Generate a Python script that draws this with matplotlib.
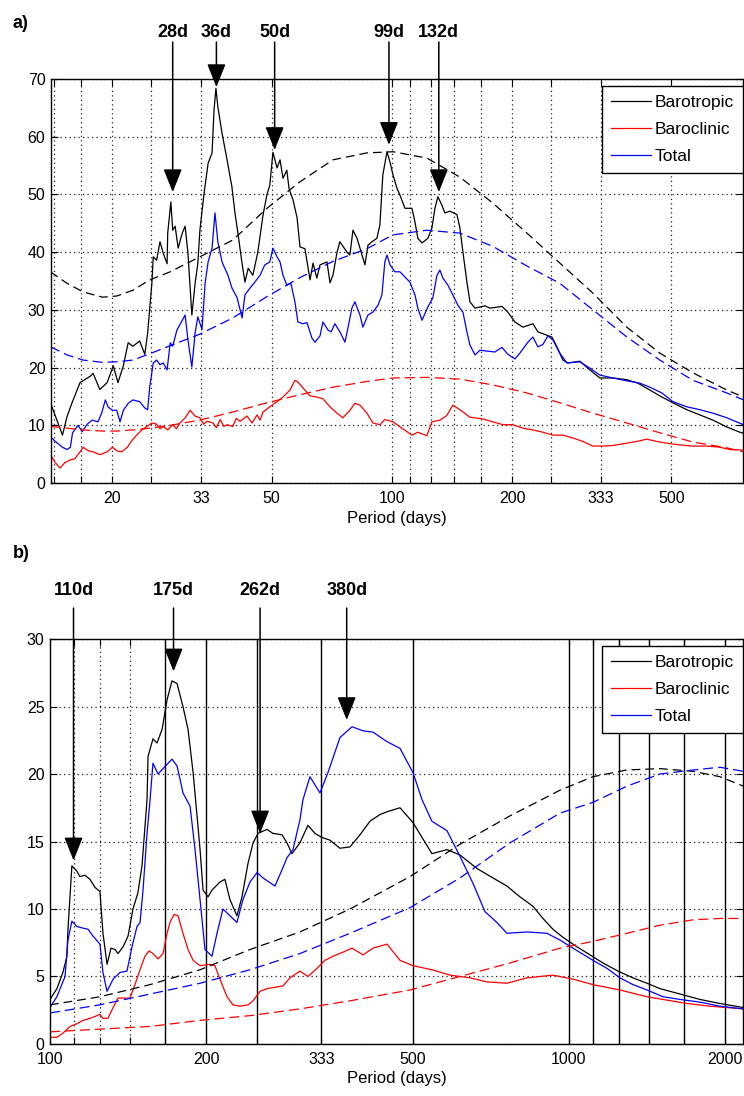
import matplotlib.pyplot as plt
from matplotlib.ticker import FixedLocator, FixedFormatter, NullLocator

plt.rcParams['font.family'] = ['Liberation Sans', 'DejaVu Sans']

# ---------------- panel a) data : (period in days, value) ----------------
a_baro = [(14.0, 13.9), (15.0, 8.3), (15.4, 11.5), (15.85, 13.9), (16.6, 17.4), (17.6, 18.5), (17.9, 19.0),
          (18.6, 16.2), (19.4, 17.4), (20.1, 20.3), (20.65, 17.4), (21.3, 20.3), (21.9, 24.3), (22.5, 23.7),
          (23.4, 24.6), (24.1, 22.3), (24.5, 26.0), (25.1, 34.6), (25.3, 39.2), (25.8, 38.6), (26.3, 41.8),
          (26.8, 39.8), (27.4, 38.0), (27.5, 43.3), (28.0, 48.7), (28.3, 43.8), (28.7, 44.5), (29.2, 40.7),
          (29.9, 43.3), (30.4, 44.5), (30.9, 39.8), (31.6, 29.1), (32.2, 34.6), (32.7, 38.0), (33.1, 43.8),
          (33.9, 50.2), (34.7, 55.4), (35.5, 57.2), (35.9, 64.6), (36.3, 68.4), (36.7, 65.2), (37.6, 60.6),
          (38.7, 56.0), (39.8, 51.3), (40.5, 46.8), (41.2, 43.3), (42.2, 38.0), (42.9, 34.8), (43.7, 37.2),
          (44.9, 36.0), (46.2, 40.0), (47.6, 46.4), (48.7, 50.0), (49.5, 51.6), (50.4, 57.3), (51.6, 54.6),
          (52.5, 56.0), (53.4, 52.8), (54.6, 54.2), (55.3, 51.0), (56.6, 49.0), (57.9, 46.0), (58.9, 40.9),
          (60.6, 40.6), (62.4, 35.2), (63.5, 38.1), (64.9, 35.5), (66.1, 37.8), (68.8, 38.3), (70.0, 34.7),
          (71.2, 36.0), (72.9, 40.0), (74.1, 41.8), (77.2, 40.0), (78.5, 39.5), (79.9, 43.8), (81.8, 42.4),
          (83.2, 40.7), (85.6, 37.8), (87.1, 41.2), (89.1, 41.8), (91.7, 42.4), (93.3, 44.7), (94.9, 53.4),
          (97.2, 57.4), (98.9, 55.6), (100.6, 53.4), (102.9, 51.1), (104.7, 49.9), (107.8, 47.6), (112.2, 47.6),
          (114.2, 45.2), (116.1, 42.4), (118.9, 41.6), (123.0, 42.4), (125.9, 44.2), (128.1, 47.6), (130.3, 49.6),
          (133.4, 48.1), (135.6, 46.8), (139.6, 47.1), (145.4, 46.5), (147.9, 44.2), (150.5, 40.0), (154.0, 34.8),
          (156.7, 31.4), (161.3, 30.3), (170.8, 30.7), (175.8, 30.3), (188.4, 30.6), (195.0, 29.6), (203.0, 27.9),
          (212.6, 27.0), (225.2, 27.6), (231.7, 26.2), (244.1, 25.6), (251.2, 25.3), (258.5, 23.6), (267.6, 21.3),
          (275.4, 20.8), (295.1, 21.1), (312.6, 19.6), (331.1, 18.2), (356.9, 18.2), (386.7, 17.9), (412.1, 17.3),
          (441.6, 16.1), (473.2, 14.9), (504.2, 13.9), (546.3, 12.7), (588.8, 11.8), (634.7, 10.9), (687.9, 9.7),
          (741.3, 8.8), (757.0, 8.6)]

a_total = [(14.0, 8.0), (14.4, 7.2), (15.0, 6.2), (15.4, 5.8), (15.7, 6.2), (15.9, 8.7), (16.4, 10.0), (16.8, 8.9),
           (17.3, 10.2), (17.8, 10.9), (18.4, 10.6), (18.8, 12.1), (19.2, 14.4), (19.5, 13.2), (20.0, 12.6),
           (20.5, 12.6), (20.9, 10.6), (21.3, 12.6), (21.9, 13.8), (22.5, 14.4), (23.4, 14.1), (24.1, 13.0),
           (24.5, 12.7), (24.8, 16.7), (25.3, 20.8), (25.8, 21.3), (26.3, 20.5), (26.8, 20.8), (27.4, 19.6),
           (27.9, 24.3), (28.3, 23.7), (29.0, 26.5), (29.9, 28.2), (30.4, 29.1), (30.9, 24.8), (31.6, 20.1),
           (32.2, 26.0), (32.7, 28.8), (33.5, 26.6), (34.1, 34.6), (34.7, 38.3), (35.5, 40.7), (36.1, 46.8),
           (36.7, 41.8), (37.6, 38.3), (38.2, 37.2), (38.9, 36.0), (39.8, 33.8), (41.0, 32.1), (42.2, 28.6),
           (42.9, 32.6), (44.2, 33.8), (45.4, 34.8), (46.8, 36.0), (48.1, 37.8), (49.5, 38.3), (50.4, 40.7),
           (51.6, 39.2), (52.5, 38.3), (53.4, 36.0), (54.6, 34.3), (55.9, 34.6), (57.2, 31.4), (58.2, 27.9),
           (59.9, 27.6), (61.3, 27.8), (63.1, 25.1), (64.2, 24.4), (66.1, 25.5), (67.2, 27.9), (69.2, 26.5),
           (70.5, 26.2), (72.0, 27.6), (74.1, 26.2), (76.3, 24.4), (77.6, 26.8), (79.4, 30.3), (80.8, 31.4),
           (83.2, 29.1), (84.6, 27.0), (87.1, 29.1), (89.6, 29.6), (92.3, 30.8), (94.4, 32.6), (96.0, 38.3),
           (97.2, 39.5), (98.9, 37.8), (101.7, 36.6), (104.7, 36.6), (110.9, 34.8), (114.2, 32.6), (116.1, 30.3),
           (118.9, 28.2), (123.0, 30.5), (126.6, 32.1), (129.6, 36.0), (131.8, 36.9), (134.1, 35.5), (138.0, 34.3),
           (142.0, 32.6), (146.2, 30.8), (150.5, 29.6), (154.0, 26.2), (156.7, 23.9), (161.3, 22.2), (166.0, 23.0),
           (180.9, 22.7), (188.4, 23.5), (195.0, 22.3), (203.0, 21.5), (208.9, 22.5), (218.8, 24.4), (225.2, 25.3),
           (231.7, 23.6), (238.5, 24.0), (245.5, 25.5), (252.6, 24.8), (263.0, 22.5), (273.8, 20.8), (295.1, 21.0),
           (312.6, 19.9), (331.1, 18.7), (356.9, 18.2), (386.7, 17.7), (416.9, 17.3), (441.6, 16.6), (473.2, 15.6),
           (504.2, 14.1), (546.3, 13.2), (588.8, 12.7), (634.7, 12.1), (687.9, 11.3), (757.0, 10.1)]

a_clinic = [(14.0, 4.9), (14.4, 3.5), (14.8, 2.6), (15.2, 3.5), (15.7, 4.0), (16.1, 4.2), (16.6, 5.4), (16.9, 6.2),
            (17.4, 5.6), (17.9, 5.4), (18.6, 4.9), (19.4, 5.4), (20.0, 6.2), (20.5, 5.6), (21.1, 5.4), (21.8, 6.2),
            (22.4, 7.4), (23.0, 8.3), (23.7, 9.2), (24.4, 9.8), (25.1, 10.4), (25.8, 10.2), (26.3, 9.4), (26.8, 9.8),
            (27.5, 9.2), (28.3, 10.1), (28.9, 9.4), (29.5, 10.4), (30.4, 11.3), (31.3, 12.6), (32.2, 11.6),
            (33.1, 11.3), (33.8, 10.2), (34.5, 10.7), (35.7, 10.4), (36.4, 9.6), (37.2, 11.0), (38.0, 9.8),
            (38.7, 10.1), (40.0, 9.8), (40.8, 11.2), (41.7, 10.7), (43.4, 11.6), (44.7, 10.4), (46.0, 11.8),
            (46.8, 10.9), (47.6, 12.3), (49.5, 13.2), (51.6, 14.1), (53.4, 14.9), (55.6, 16.1), (57.2, 17.8),
            (58.2, 17.5), (59.9, 16.5), (62.4, 15.1), (64.9, 14.9), (67.2, 14.6), (70.0, 13.2), (72.9, 12.1),
            (75.4, 11.3), (78.5, 12.6), (80.8, 13.8), (83.2, 13.5), (86.6, 12.1), (89.6, 10.4), (93.3, 10.1),
            (96.0, 11.0), (100.6, 10.6), (105.9, 9.5), (112.2, 8.3), (116.1, 8.8), (122.3, 8.2), (125.9, 10.6),
            (131.8, 10.9), (137.2, 11.7), (142.0, 13.5), (147.9, 12.7), (156.7, 11.4), (168.9, 11.1), (178.8, 10.6),
            (189.5, 10.1), (200.6, 10.1), (212.6, 9.5), (225.2, 9.2), (238.5, 8.8), (252.6, 8.3), (267.6, 8.3),
            (283.5, 7.8), (300.3, 7.2), (318.1, 6.4), (336.9, 6.4), (356.9, 6.5), (386.7, 6.9), (409.7, 7.2),
            (434.0, 7.6), (459.7, 7.2), (487.0, 6.9), (524.8, 6.6), (565.6, 6.4), (613.2, 6.4), (660.7, 6.2),
            (699.8, 5.8), (757.0, 5.7)]

# smooth (dashed) reference curves of panel a)
a_fit_period = [14.0, 15.4, 16.9, 18.9, 20.5, 22.5, 24.8, 27.9, 33.1, 40.0, 48.7, 58.9, 71.2, 86.6, 100.6,
                122.3, 147.9, 178.8, 217.6, 263.0, 318.1, 386.7, 467.7, 565.6, 687.9, 757.0]
a_baro_fit = [36.6, 34.6, 33.1, 32.2, 32.4, 33.4, 35.2, 36.6, 39.2, 42.1, 47.6, 52.2, 56.0, 57.2, 57.4,
              56.3, 53.0, 48.5, 43.3, 38.1, 32.9, 27.0, 22.5, 19.1, 16.1, 14.9]
a_total_fit = [23.6, 22.2, 21.3, 20.9, 21.0, 21.3, 22.4, 23.8, 25.8, 28.6, 32.3, 35.6, 38.4, 40.6, 43.0,
               43.8, 43.3, 41.0, 37.6, 34.6, 30.0, 25.3, 21.3, 17.8, 15.6, 14.4]
a_clinic_fit = [9.8, 9.5, 9.2, 9.0, 9.0, 9.2, 9.5, 10.0, 10.9, 12.3, 13.9, 15.3, 16.6, 17.6, 18.2,
                18.3, 18.0, 17.0, 15.6, 13.9, 12.1, 10.4, 8.7, 7.1, 6.1, 5.4]

a_ticks = [100 / 7, 100 / 6, 20, 25, 100 / 3, 50, 100, 1000 / 9, 125, 1000 / 7, 1000 / 6, 200, 250, 1000 / 3, 500]
a_ticklabels = ['', '', '20', '', '33', '50', '100', '', '', '', '', '200', '', '333', '500']
a_peaks = ['28d', '36d', '50d', '99d', '132d']
a_peak_period = [28.3, 36.4, 50.9, 98.3, 131.0]
a_peak_tip = [50.4, 68.6, 57.7, 58.6, 50.4]

# ---------------- panel b) data ----------------
b_baro = [(100, 3.3), (103.1, 4.1), (105.9, 5.3), (107.8, 6.5), (108.3, 8.5), (110.2, 13.2), (112.7, 12.8),
          (114.2, 12.4), (116.8, 12.5), (119.4, 12.2), (122.1, 11.6), (124.8, 11.3), (126.5, 8.2), (128.8, 5.9),
          (131.1, 7.1), (133.5, 7.0), (135.2, 6.7), (138.3, 7.2), (141.4, 8.0), (144.5, 10.0), (147.7, 11.2),
          (150.4, 13.2), (152.4, 16.1), (153.8, 18.1), (154.5, 21.3), (157.9, 22.6), (160.8, 22.3), (164.4, 23.3),
          (168.1, 25.5), (171.8, 26.9), (175.7, 26.7), (180.4, 25.0), (184.5, 23.3), (188.7, 20.1), (192.0, 16.9),
          (194.6, 14.4), (197.2, 11.4), (201.6, 10.9), (205.2, 11.4), (212.6, 12.0), (217.3, 12.2), (222.2, 10.7),
          (229.2, 9.5), (234.4, 10.9), (240.8, 13.4), (246.2, 14.9), (251.7, 15.6), (261.9, 15.9), (268.9, 15.6),
          (279.9, 15.5), (286.2, 14.9), (292.6, 14.1), (303.1, 14.9), (314.1, 16.2), (324.0, 15.6), (334.2, 15.3),
          (346.3, 15.1), (362.0, 14.5), (378.5, 14.6), (395.7, 15.5), (413.6, 16.5), (432.4, 17.0), (446.0, 17.2),
          (472.5, 17.5), (500.6, 16.4), (544.4, 14.1), (582.1, 14.4), (616.6, 14.0), (664.9, 13.0), (713.8, 12.3),
          (759.5, 11.7), (804.6, 10.9), (852.4, 10.2), (891.1, 9.3), (931.5, 8.5), (973.7, 7.9), (1036, 7.2),
          (1098, 6.6), (1163, 6.0), (1243, 5.4), (1328, 4.9), (1414, 4.5), (1498, 4.1), (1637, 3.7), (1789, 3.3),
          (1954, 3.0), (2169, 2.7)]

b_total = [(100, 2.7), (103.1, 3.5), (106.9, 5.0), (108.3, 7.7), (110.2, 9.1), (112.7, 8.7), (115.3, 8.6),
           (118.4, 8.5), (121.0, 8.0), (124.8, 7.4), (126.5, 5.3), (128.8, 3.9), (132.3, 4.8), (136.4, 5.3),
           (140.7, 5.4), (143.9, 7.2), (147.1, 8.7), (149.1, 9.0), (151.1, 11.4), (153.8, 15.6), (155.9, 18.1),
           (157.9, 20.8), (161.5, 20.0), (165.1, 20.4), (171.8, 21.1), (175.7, 20.6), (178.1, 19.6), (180.4, 18.6),
           (184.5, 17.9), (186.2, 17.6), (190.3, 14.4), (194.6, 10.7), (198.9, 7.0), (205.2, 6.5), (209.8, 8.2),
           (215.4, 10.0), (222.2, 9.5), (229.2, 9.0), (235.4, 10.7), (242.9, 12.0), (250.6, 12.7), (257.4, 12.3),
           (271.3, 11.7), (279.9, 12.9), (286.2, 13.8), (293.9, 14.4), (303.1, 16.6), (307.2, 18.1), (316.9, 19.8),
           (331.3, 18.6), (343.2, 20.1), (362.0, 22.7), (381.9, 23.5), (401.0, 23.2), (419.2, 23.1), (446.0, 22.4),
           (472.5, 21.9), (500.6, 20.1), (521.0, 18.1), (544.4, 16.5), (582.1, 15.8), (616.6, 13.9), (653.2, 11.9),
           (689.0, 9.8), (726.5, 9.0), (759.5, 8.2), (830.0, 8.3), (907.1, 8.2), (960.9, 7.7), (1018, 7.1),
           (1112, 6.2), (1184, 5.6), (1254, 4.9), (1328, 4.4), (1414, 4.0), (1518, 3.5), (1637, 3.3), (1789, 3.1),
           (1954, 2.8), (2169, 2.6)]

b_clinic = [(100, 0.5), (103.1, 0.5), (105.9, 0.8), (109.3, 1.3), (112.7, 1.5), (115.8, 1.75), (119.4, 1.9),
            (123.2, 2.1), (124.8, 2.2), (126.5, 1.9), (129.3, 1.9), (132.3, 2.7), (135.2, 3.4), (138.3, 3.4),
            (142.6, 3.4), (145.8, 4.4), (149.1, 5.5), (152.4, 6.5), (155.2, 6.9), (157.9, 6.7), (161.5, 6.3),
            (165.1, 6.7), (168.1, 8.2), (170.3, 9.0), (173.4, 9.6), (176.5, 9.5), (180.4, 8.2), (184.5, 7.0),
            (188.7, 6.2), (194.6, 5.8), (203.4, 5.9), (207.9, 5.8), (212.6, 4.8), (219.3, 3.5), (225.2, 2.9),
            (232.3, 2.8), (240.8, 2.9), (246.2, 3.2), (254.0, 3.9), (261.9, 4.1), (271.3, 4.2), (281.1, 4.3),
            (290.0, 4.9), (303.1, 5.4), (314.1, 5.0), (326.9, 5.6), (338.7, 6.2), (350.9, 6.5), (366.8, 6.8),
            (381.9, 7.1), (401.0, 6.6), (419.2, 7.1), (446.0, 7.4), (472.5, 6.2), (500.6, 5.8), (544.4, 5.5),
            (589.9, 5.1), (644.6, 4.9), (695.0, 4.6), (759.5, 4.5), (830.0, 4.9), (931.5, 5.1), (1018, 4.8),
            (1112, 4.4), (1254, 4.0), (1414, 3.5), (1518, 3.3), (1688, 3.0), (1870, 2.8), (2169, 2.6)]

b_fit_period = [100, 124.8, 155.9, 194.6, 242.9, 303.1, 378.5, 494.0, 616.6, 769.7, 960.9, 1112, 1293,
                1498, 1734, 1954, 2169]
b_baro_fit = [2.9, 3.5, 4.4, 5.5, 7.0, 8.3, 10.0, 12.4, 14.8, 16.9, 18.8, 19.8, 20.3, 20.4, 20.2, 19.8, 19.1]
b_total_fit = [2.3, 2.9, 3.7, 4.5, 5.5, 6.7, 8.2, 10.1, 12.3, 14.9, 17.1, 17.9, 19.1, 20.0, 20.3, 20.5, 20.2]
b_clinic_fit = [0.9, 1.1, 1.3, 1.75, 2.1, 2.6, 3.2, 4.0, 5.0, 6.0, 7.1, 7.6, 8.2, 8.8, 9.2, 9.3, 9.3]

b_ticks = [100, 1000 / 9, 125, 1000 / 7, 1000 / 6, 200, 250, 1000 / 3, 500, 1000, 10000 / 9, 1250,
           10000 / 7, 10000 / 6, 2000]
b_ticklabels = ['100', '', '', '', '', '200', '', '333', '500', '1000', '', '', '', '', '2000']
b_dotted_ticks = [1000 / 9, 125, 1000 / 7]
b_peaks = ['110d', '175d', '262d', '380d']
b_peak_period = [111.0, 173.0, 254.0, 373.0]
b_peak_tip = [13.6, 27.6, 15.6, 24.0]


def unzip(pairs):
    return [p for p, v in pairs], [v for p, v in pairs]


def style_axis(ax, ticks, labels, xlim, ylim, ystep, dotted):
    ax.set_xscale('log')
    ax.set_xlim(*xlim)
    ax.set_ylim(*ylim)
    ax.xaxis.set_major_locator(FixedLocator(ticks))
    ax.xaxis.set_major_formatter(FixedFormatter(labels))
    ax.xaxis.set_minor_locator(NullLocator())
    ax.set_yticks(range(ylim[0], ylim[1] + 1, ystep))
    ax.tick_params(direction='in', top=True, right=True, length=5, width=0.8, labelsize=11.5)
    ax.tick_params(axis='x', pad=6)
    ax.tick_params(axis='y', pad=4)
    for s in ax.spines.values():
        s.set_linewidth(1.0)
    ax.grid(axis='y', linestyle=(0, (1, 2.6)), color='#222222', linewidth=0.9)
    for t in ticks:
        if t <= xlim[0] * 1.001:
            continue
        if t in dotted:
            ax.axvline(t, linestyle=(0, (1, 2.6)), color='#222222', linewidth=0.9, zorder=0.5)
        else:
            ax.axvline(t, linestyle='-', color='black', linewidth=1.0, zorder=0.5)
    ax.set_xlabel('Period (days)', fontsize=12, labelpad=3)


def draw_curves(ax, baro, clinic, total, fit_p, baro_fit, clinic_fit, total_fit):
    ax.plot(*unzip(baro), color='black', lw=0.9, label='Barotropic')
    ax.plot(*unzip(clinic), color='#ff0000', lw=0.9, label='Baroclinic')
    ax.plot(*unzip(total), color='#0000ff', lw=0.9, label='Total')
    ax.plot(fit_p, baro_fit, color='black', lw=0.9, dashes=(7, 4))
    ax.plot(fit_p, clinic_fit, color='#ff0000', lw=0.9, dashes=(8, 4))
    ax.plot(fit_p, total_fit, color='#0000ff', lw=0.9, dashes=(8, 4))
    leg = ax.legend(loc='upper right', bbox_to_anchor=(0.999, 0.983), borderaxespad=0, fancybox=False,
                    framealpha=1, edgecolor='black', fontsize=12.5, handlelength=2.3, handletextpad=0.25,
                    labelspacing=0.7, borderpad=0.5)
    leg.get_frame().set_linewidth(1.0)


def draw_peaks(ax, names, periods, tips, y_start, y_text):
    for name, p, tip in zip(names, periods, tips):
        ax.annotate('', xy=(p, tip), xycoords='data', xytext=(p, y_start),
                    textcoords=('data', 'axes fraction'), annotation_clip=False,
                    arrowprops=dict(arrowstyle='-|>,head_length=0.8,head_width=0.32', mutation_scale=18,
                                    color='black', lw=1.1, shrinkA=0, shrinkB=0))
        ax.text(p, y_text, name, transform=ax.get_xaxis_transform(), ha='center', va='center',
                fontsize=13, fontweight='bold')


fig = plt.figure(figsize=(7.44, 10.96), dpi=100)

# Panel a)
ax1 = fig.add_axes([0.0685, 0.5593, 0.9308, 0.3686])
style_axis(ax1, a_ticks, a_ticklabels, (14.04, 757), (0, 70), 10, a_ticks)
draw_curves(ax1, a_baro, a_clinic, a_total, a_fit_period, a_baro_fit, a_clinic_fit, a_total_fit)
draw_peaks(ax1, a_peaks, a_peak_period, a_peak_tip, 1.0916, 1.116)
fig.text(0.017, 0.979, 'a)', fontsize=13, fontweight='bold', va='center')

# Panel b)
ax2 = fig.add_axes([0.0672, 0.04745, 0.9321, 0.3695])
style_axis(ax2, b_ticks, b_ticklabels, (100, 2169), (0, 30), 5, b_dotted_ticks)
draw_curves(ax2, b_baro, b_clinic, b_total, b_fit_period, b_baro_fit, b_clinic_fit, b_total_fit)
draw_peaks(ax2, b_peaks, b_peak_period, b_peak_tip, 1.0765, 1.121)
fig.text(0.017, 0.495, 'b)', fontsize=13, fontweight='bold', va='center')

fig.savefig('out.png', dpi=100)
